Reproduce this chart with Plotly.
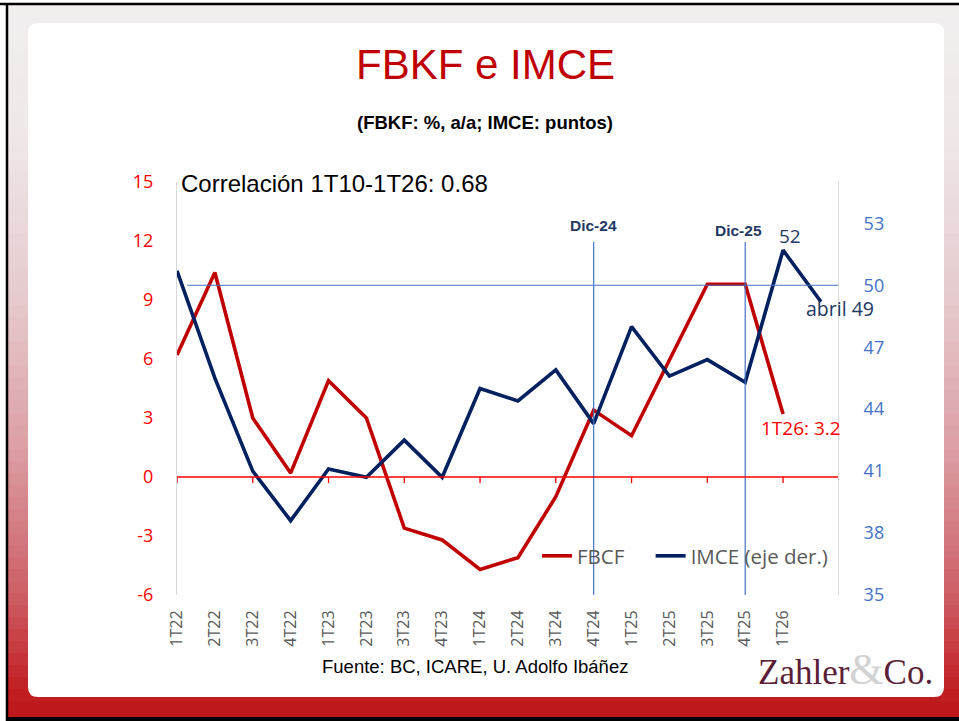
import plotly.graph_objects as go

# ---------------- data ----------------
quarters = ["1T22", "2T22", "3T22", "4T22", "1T23", "2T23", "3T23", "4T23",
            "1T24", "2T24", "3T24", "4T24", "1T25", "2T25", "3T25", "4T25", "1T26"]
fbcf = [6.2, 10.4, 3.0, 0.2, 4.9, 3.0, -2.6, -3.2, -4.7, -4.1, -1.0, 3.4,
        2.1, 6.0, 9.8, 9.8, 3.2]
imce_labels = quarters + ["abril"]
imce = [50.7, 45.5, 41.0, 38.6, 41.1, 40.7, 42.5, 40.7, 45.0, 44.4, 45.9, 43.3,
        48.0, 45.6, 46.4, 45.3, 51.7, 49.2]
left_ticks = [-6, -3, 0, 3, 6, 9, 12, 15]
right_ticks = [35, 38, 41, 44, 47, 50, 53]
ref_level = 50
marks = {"Dic-24": "4T24", "Dic-25": "4T25"}
series_names = ["FBCF", "IMCE (eje der.)"]

# ---------------- geometry helpers ----------------
W, H = 959, 721
PL, PR, PT, PB = 177, 838, 182, 595


def fx(px):
    return (px - PL) / (PR - PL)


def fy(py):
    return (PB - py) / (PB - PT)


RED = "#C00000"
NAVY = "#002060"
BLUE = "#4472C4"
GRAY = "#595959"
SANS = "Liberation Sans, Arial, sans-serif"
CAL = "Open Sans, Noto Sans, sans-serif"
SERIF = "Liberation Serif, Times New Roman, serif"

xi = list(range(len(imce_labels)))
xf = list(range(len(quarters)))

fig = go.Figure()
fig.add_trace(go.Scatter(x=xf, y=fbcf, mode="lines",
                         name=series_names[0] + "\u00a0" * 4,
                         line=dict(color=RED, width=3.6), yaxis="y"))
fig.add_trace(go.Scatter(x=xi, y=imce, mode="lines", name=series_names[1],
                         line=dict(color=NAVY, width=3.6), yaxis="y2"))

shapes = []
# background gradient (decoration)
stops = [(0, (243, 240, 240)), (150, (238, 230, 231)), (300, (230, 202, 205)),
         (450, (219, 158, 164)), (600, (204, 92, 98)), (690, (193, 30, 34)),
         (721, (188, 22, 26))]


def col_at(py):
    for (a, ca), (b, cb) in zip(stops[:-1], stops[1:]):
        if a <= py <= b:
            t = (py - a) / (b - a)
            return "rgb(%d,%d,%d)" % tuple(round(ca[i] + t * (cb[i] - ca[i])) for i in range(3))
    return "rgb(188,22,26)"


step = 12
y = 5
while y < 717:
    y2 = min(y + step, 717)
    shapes.append(dict(type="rect", xref="paper", yref="paper", layer="below",
                       x0=fx(8), x1=fx(W + 2), y0=fy(y), y1=fy(y2 + 0.5),
                       line=dict(width=0), fillcolor=col_at((y + y2) / 2)))
    y = y2
# black frame
shapes.append(dict(type="line", xref="paper", yref="paper", layer="below",
                   x0=fx(0), x1=fx(W + 2), y0=fy(4), y1=fy(4),
                   line=dict(color="black", width=2.5)))
shapes.append(dict(type="line", xref="paper", yref="paper", layer="below",
                   x0=fx(7), x1=fx(7), y0=fy(3), y1=fy(722),
                   line=dict(color="black", width=2.5)))
shapes.append(dict(type="rect", xref="paper", yref="paper", layer="below",
                   x0=fx(6), x1=fx(W + 2), y0=fy(717), y1=fy(723),
                   line=dict(width=0), fillcolor="black"))
# white rounded panel
x0p, x1p, y0p, y1p, r = 28, 944, 23, 697, 10
path = (f"M {x0p + r},{y0p} L {x1p - r},{y0p} Q {x1p},{y0p} {x1p},{y0p + r} "
        f"L {x1p},{y1p - r} Q {x1p},{y1p} {x1p - r},{y1p} L {x0p + r},{y1p} "
        f"Q {x0p},{y1p} {x0p},{y1p - r} L {x0p},{y0p + r} Q {x0p},{y0p} {x0p + r},{y0p} Z")


def conv_path(p):
    out = []
    for tok in p.split(" "):
        if "," in tok:
            a, b = tok.split(",")
            out.append(f"{fx(float(a)):.5f},{fy(float(b)):.5f}")
        else:
            out.append(tok)
    return " ".join(out)


shapes.append(dict(type="path", xref="paper", yref="paper", layer="below",
                   path=conv_path(path), fillcolor="white", line=dict(width=0)))

# reference horizontal line (IMCE = 50)
shapes.append(dict(type="line", xref="x", yref="y2", x0=0.27, x1=17.45,
                   y0=ref_level, y1=ref_level, line=dict(color=BLUE, width=1.2)))
# vertical marker lines
for lab, q in marks.items():
    k = quarters.index(q)
    shapes.append(dict(type="line", xref="x", yref="paper", x0=k, x1=k,
                       y0=0, y1=fy(242), line=dict(color=BLUE, width=1.2)))
# zero line on left axis with tick marks
shapes.append(dict(type="line", xref="x", yref="y", x0=0, x1=17.45, y0=0, y1=0,
                   line=dict(color="#FF0000", width=1.3)))
for k in range(0, len(quarters), 2):
    shapes.append(dict(type="line", xref="x", yref="y", ysizemode="pixel", yanchor=0,
                       x0=k, x1=k, y0=0, y1=-6, line=dict(color="#FF0000", width=1.3)))


def pann(text, px, py, size, color, family=SANS, xanchor="center"):
    return dict(text=text, x=fx(px), y=fy(py), xref="paper", yref="paper",
                xanchor=xanchor, yanchor="middle", showarrow=False,
                font=dict(family=family, size=size, color=color))


annotations = [
    pann("FBKF e IMCE", 485, 65, 42, RED),
    pann("<b>(FBKF: %, a/a; IMCE: puntos)</b>", 485, 122, 18.5, "black"),
    pann("Correlación 1T10-1T26: 0.68", 179, 183, 24, "black", xanchor="left"),
    pann("Fuente: BC, ICARE, U. Adolfo Ibáñez", 475, 666, 18.5, "black",
         family="Liberation Sans Narrow, Arial Narrow, Liberation Sans, sans-serif"),
    pann("Zahler<span style='font-size:44px;color:#D2D2D2'>&amp;</span>Co.",
         846, 669, 35, "#5A1F36", SERIF),
]
# marker labels
dic_pos = {"Dic-24": (0, 225), "Dic-25": (-7, 230)}
for lab, q in marks.items():
    dx, py = dic_pos[lab]
    annotations.append(dict(text=f"<b>{lab}</b>", x=quarters.index(q), xref="x",
                            y=fy(py), yref="paper", xshift=dx, yanchor="middle",
                            showarrow=False,
                            font=dict(family=SANS, size=15.5, color="#1F3864")))
# data labels
annotations.append(dict(text=f"{imce[-2]:.0f}", x=len(imce) - 2, y=imce[-2], xref="x",
                        yref="y2", xshift=7, yshift=14, showarrow=False,
                        font=dict(family=CAL, size=19, color="#1F3864")))
annotations.append(dict(text=f"{imce_labels[-1]} {imce[-1]:.0f}", x=len(imce) - 1,
                        y=imce[-1], xref="x", yref="y2", xshift=19, yshift=-7,
                        showarrow=False, font=dict(family=CAL, size=19.5, color="#1F3864")))
annotations.append(dict(text=f"{quarters[-1]}: {fbcf[-1]:.1f}", x=len(fbcf) - 1,
                        y=fbcf[-1], xref="x", yref="y", xshift=18, yshift=-14,
                        showarrow=False, font=dict(family=CAL, size=19, color="#FF0000")))

fig.update_layout(
    width=W, height=H,
    margin=dict(l=PL, r=W - PR, t=PT, b=H - PB, autoexpand=False),
    paper_bgcolor="white", plot_bgcolor="rgba(0,0,0,0)",
    showlegend=True,
    legend=dict(orientation="h", x=fx(537), y=fy(556), xanchor="left", yanchor="middle",
                bgcolor="rgba(0,0,0,0)", font=dict(family=CAL, size=20.5, color=GRAY),
                itemwidth=30),
    xaxis=dict(range=[0, 17.45], tickmode="array", tickvals=xf, ticktext=quarters,
               tickangle=-90, showgrid=False, zeroline=False, showline=False,
               ticks="outside", ticklen=8, tickcolor="rgba(0,0,0,0)",
               tickfont=dict(family=CAL, size=16, color=GRAY)),
    yaxis=dict(range=[-6, 15], tickmode="array", tickvals=left_ticks,
               ticktext=[str(v) for v in left_ticks],
               showgrid=False, zeroline=False, showline=True, linecolor="#D9D9D9",
               linewidth=1, ticks="outside", ticklen=19, tickcolor="rgba(0,0,0,0)",
               tickfont=dict(family=CAL, size=18, color="#FF0000")),
    yaxis2=dict(range=[35, 55], tickmode="array", tickvals=right_ticks,
                ticktext=[str(v) for v in right_ticks],
                overlaying="y", side="right", showgrid=False, zeroline=False,
                showline=True, linecolor="#D9D9D9", linewidth=1, ticks="outside",
                ticklen=21, tickcolor="rgba(0,0,0,0)",
                tickfont=dict(family=CAL, size=18, color=BLUE)),
    shapes=shapes, annotations=annotations,
)

fig.write_html("out.html", config={"displayModeBar": False},
               post_script="document.body.style.margin='0';"
                           "document.body.style.overflow='hidden';")
